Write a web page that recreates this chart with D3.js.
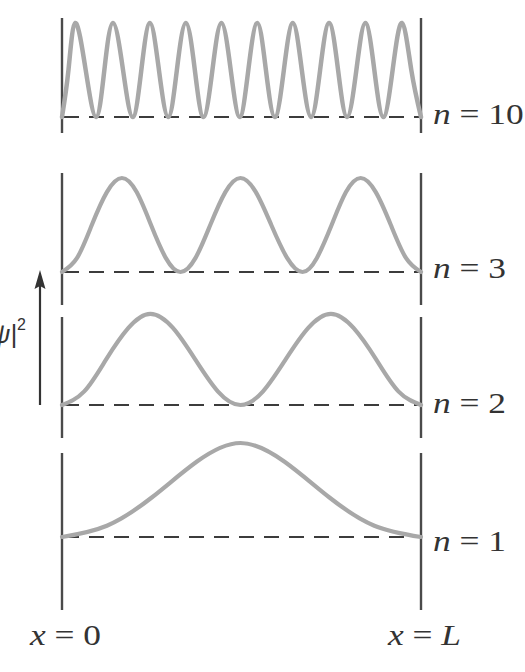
<!DOCTYPE html>
<html>
<head>
<meta charset="utf-8">
<script src="https://cdn.jsdelivr.net/npm/d3@7"></script>
<style>
  html, body { margin: 0; padding: 0; background: #ffffff; }
  svg { display: block; }
</style>
</head>
<body>
<div id="chart"></div>
<script>
// ---- Data ----
// quantum numbers of the plotted states (top to bottom)
const quantumNumbers = [10, 3, 2, 1];
const stateLabels = ["10", "3", "2", "1"];
const n10X = [0, 0.018, 0.037, 0.066, 0.095, 0.118, 0.142, 0.170, 0.197, 0.221,
              0.245, 0.270, 0.296, 0.320, 0.345, 0.370, 0.394, 0.419, 0.444, 0.470,
              0.495, 0.519, 0.544, 0.568, 0.593, 0.618, 0.643, 0.668, 0.694, 0.719,
              0.744, 0.769, 0.794, 0.820, 0.845, 0.870, 0.895, 0.921, 0.947, 0.973, 1];
const n10Y = [0, 0.5, 1, 0.5, 0, 0.5, 1, 0.5, 0, 0.5,
              1, 0.5, 0, 0.5, 1, 0.5, 0, 0.5, 1, 0.5,
              0, 0.5, 1, 0.5, 0, 0.5, 1, 0.5, 0, 0.5,
              1, 0.5, 0, 0.5, 1, 0.5, 0, 0.5, 1, 0.5, 0];
const n3X = [0, 0.042, 0.083, 0.125, 0.167, 0.208, 0.248, 0.289, 0.33,
             0.372, 0.413, 0.455, 0.497, 0.54, 0.583, 0.627, 0.67,
             0.71, 0.751, 0.791, 0.832, 0.874, 0.916, 0.958, 1];
const n3Y = [0, 0.15, 0.5, 0.85, 1, 0.85, 0.5, 0.15, 0,
             0.15, 0.5, 0.85, 1, 0.85, 0.5, 0.15, 0,
             0.15, 0.5, 0.85, 1, 0.85, 0.5, 0.15, 0];
const n2X = [0, 0.062, 0.123, 0.185, 0.246, 0.309, 0.371, 0.434, 0.497,
             0.56, 0.623, 0.686, 0.749, 0.812, 0.875, 0.937, 1];
const n2Y = [0, 0.145, 0.485, 0.82, 0.97, 0.82, 0.485, 0.145, 0,
             0.145, 0.485, 0.82, 0.97, 0.82, 0.485, 0.145, 0];
const n1X = [0, 0.125, 0.25, 0.375, 0.497, 0.62, 0.745, 0.87, 1];
const n1Y = [0, 0.12, 0.42, 0.8, 1, 0.8, 0.42, 0.12, 0];
const boundaryLabels = ["0", "L"];   // x = 0 and x = L
const yAxisLabel = "|ψ|";

const seriesX = [n10X, n3X, n2X, n1X];
const seriesY = [n10Y, n3Y, n2Y, n1Y];

// ---- Layout ----
const W = 525, H = 672;
const panels = [
  { base: 117, top: 18,  bottom: 133, labelY: 124 },
  { base: 272, top: 173, bottom: 305, labelY: 278 },
  { base: 405, top: 317, bottom: 438, labelY: 413 },
  { base: 537, top: 453, bottom: 610, labelY: 551 }
];
const amp = 94;

const svg = d3.select("#chart").append("svg")
  .attr("width", W).attr("height", H)
  .style("background", "#ffffff");

const x = d3.scaleLinear().domain([0, 1]).range([62, 421]);

const serif = "'Liberation Serif', 'Times New Roman', serif";
const ink = "#333333";

quantumNumbers.forEach((n, i) => {
  const p = panels[i];
  const y = d3.scaleLinear().domain([0, 1]).range([p.base, p.base - amp]);
  const g = svg.append("g");

  // walls
  g.selectAll("line.wall").data([0, 1]).enter().append("line")
    .attr("class", "wall")
    .attr("x1", d => x(d)).attr("x2", d => x(d))
    .attr("y1", p.top).attr("y2", p.bottom)
    .attr("stroke", "#4a4a4a").attr("stroke-width", 2.4);

  // dashed zero line
  g.append("line")
    .attr("x1", x(0) + 2).attr("x2", x(1) - 2)
    .attr("y1", y(0)).attr("y2", y(0))
    .attr("stroke", "#3c3c3c").attr("stroke-width", 2.2)
    .attr("stroke-dasharray", "15 10");

  // probability density curve
  const pts = seriesX[i].map((xv, k) => [xv, seriesY[i][k]]);
  const line = d3.line()
    .x(d => x(d[0])).y(d => y(d[1]))
    .curve(d3.curveNatural);
  g.append("path")
    .attr("d", line(pts))
    .attr("fill", "none")
    .attr("stroke", "#a8a8a8")
    .attr("stroke-width", n === 10 ? 4.5 : 4.2)
    .attr("stroke-linejoin", "round")
    .attr("stroke-linecap", "round");

  // label n = ...
  const t = g.append("text")
    .attr("transform", `translate(433,${p.labelY}) scale(1.22,1)`)
    .attr("font-family", serif)
    .attr("font-size", 29)
    .attr("fill", ink)
    .attr("xml:space", "preserve");
  t.append("tspan").attr("font-style", "italic").text("n");
  t.append("tspan").text(" = " + stateLabels[i]);
});

// boundary labels
const bx = [x(0) - 32, x(1) - 33];
boundaryLabels.forEach((lab, i) => {
  const t = svg.append("text")
    .attr("transform", `translate(${bx[i]},645) scale(1.22,1)`)
    .attr("font-family", serif)
    .attr("font-size", 29)
    .attr("fill", ink)
    .attr("xml:space", "preserve");
  t.append("tspan").attr("font-style", "italic").text("x");
  t.append("tspan").text(" = ");
  t.append("tspan").attr("font-style", lab === "L" ? "italic" : "normal").text(lab);
});

// y-axis arrow
const ax = 40, aTop = 270, aBot = 405;
svg.append("line")
  .attr("x1", ax).attr("x2", ax)
  .attr("y1", aBot).attr("y2", aTop + 14)
  .attr("stroke", ink).attr("stroke-width", 2.2);
svg.append("path")
  .attr("d", d3.line()([[ax, aTop], [ax - 5.5, aTop + 19], [ax, aTop + 16], [ax + 5.5, aTop + 19]]) + "Z")
  .attr("fill", ink);

// y-axis label |psi|^2 (clipped at left edge like the reference)
const yl = svg.append("text")
  .attr("x", 26).attr("y", 343)
  .attr("text-anchor", "end")
  .attr("font-family", "'Liberation Sans', Arial, sans-serif")
  .attr("font-size", 26)
  .attr("fill", ink);
yl.append("tspan").attr("font-style", "italic").text(yAxisLabel);
yl.append("tspan").attr("font-size", 16).attr("dy", -13).text("2");
</script>
</body>
</html>
